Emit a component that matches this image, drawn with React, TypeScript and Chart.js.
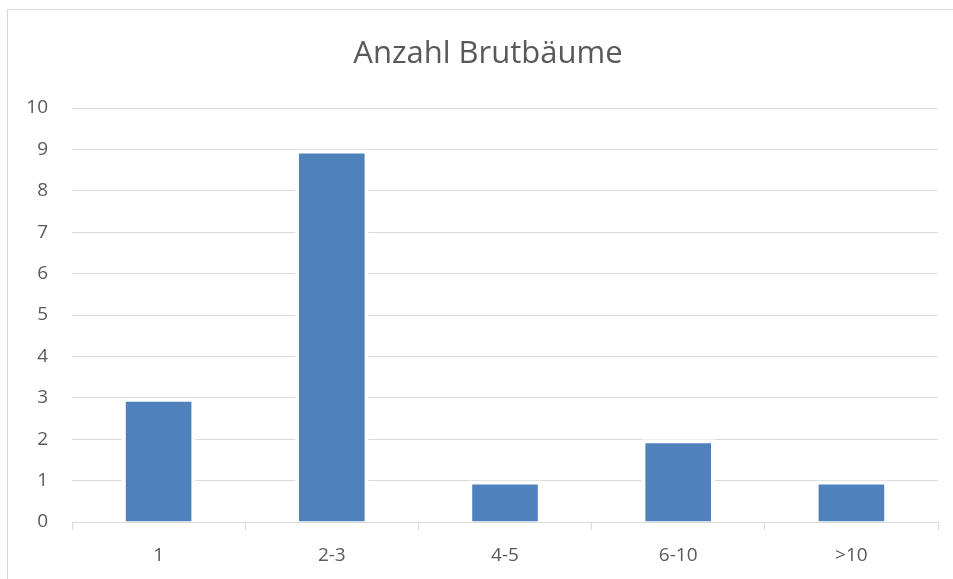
import React, { useEffect, useRef } from "react";
import { Chart, registerables } from "chart.js";

Chart.register(...registerables);

const TITLE = "Anzahl Brutbäume";
const categories = ["1", "2-3", "4-5", "6-10", ">10"];
const values = [3, 9, 1, 2, 1];
const yMin = 0;
const yMax = 10;
const yStep = 1;

const TEXT = "#595959";
const GRID = "#d9d9d9";
const BAR = "#4F81BD";
const FONT = "'Open Sans', 'Liberation Sans', sans-serif";

const framePlugin = {
  id: "frameAndTitle",
  beforeDraw(chart: any) {
    const ctx = chart.ctx;
    ctx.save();
    ctx.fillStyle = "#ffffff";
    ctx.fillRect(0, 0, chart.width, chart.height);
    ctx.strokeStyle = GRID;
    ctx.lineWidth = 1;
    ctx.strokeRect(7.5, 9.5, chart.width + 20, chart.height + 20);
    ctx.fillStyle = TEXT;
    ctx.font = `31px ${FONT}`;
    ctx.textAlign = "center";
    ctx.textBaseline = "middle";
    ctx.fillText(TITLE, 488, 54);
    ctx.restore();
  },
};

export default function App() {
  const ref = useRef<HTMLCanvasElement | null>(null);
  useEffect(() => {
    if (!ref.current) return;
    const chart = new Chart(ref.current, {
      type: "bar",
      data: {
        labels: categories,
        datasets: [
          {
            data: values,
            backgroundColor: BAR,
            borderColor: "#ffffff",
            borderWidth: 4,
            barPercentage: 0.425,
            categoryPercentage: 1,
          },
        ],
      },
      options: {
        animation: false,
        responsive: false,
        maintainAspectRatio: false,
        layout: { padding: { top: 108, left: 0, right: 15, bottom: 0 } },
        plugins: {
          legend: { display: false },
          title: { display: false },
          tooltip: { enabled: false },
        },
        scales: {
          x: {
            offset: true,
            grid: {
              offset: true,
              drawOnChartArea: false,
              drawTicks: true,
              tickLength: 8,
              color: GRID,
            },
            border: { display: true, color: GRID, width: 1 },
            ticks: {
              color: TEXT,
              font: { family: FONT, size: 19 },
              padding: 14,
            },
            afterFit: (s: any) => {
              s.height = 57;
            },
          },
          y: {
            min: yMin,
            max: yMax,
            ticks: {
              stepSize: yStep,
              color: TEXT,
              font: { family: FONT, size: 19 },
              padding: 24,
            },
            grid: { color: GRID, drawTicks: false, lineWidth: 1 },
            border: { display: false },
            afterFit: (s: any) => {
              s.width = 72;
            },
          },
        },
      },
      plugins: [framePlugin],
    });
    return () => chart.destroy();
  }, []);
  return (
    <div style={{ position: "fixed", left: 0, top: 0, width: 953, height: 579, overflow: "hidden", background: "#fff" }}>
      <canvas ref={ref} width={953} height={579} style={{ display: "block", width: 953, height: 579 }} />
    </div>
  );
}
